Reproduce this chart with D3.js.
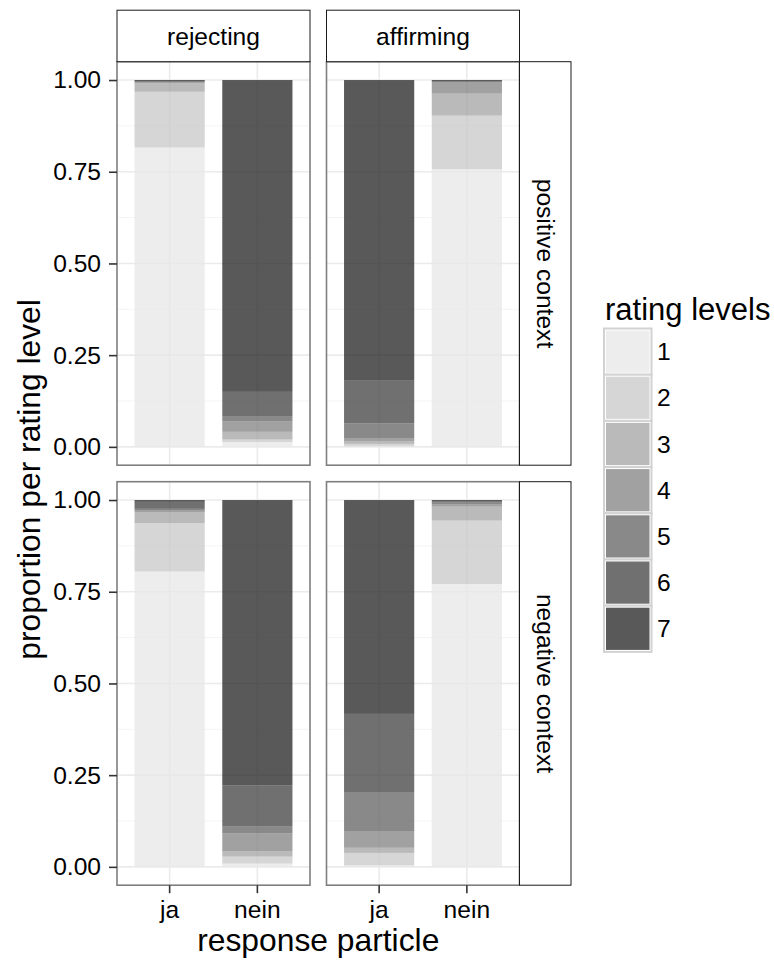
<!DOCTYPE html>
<html>
<head>
<meta charset="utf-8">
<script src="https://cdn.jsdelivr.net/npm/d3@7"></script>
<style>
  body { margin: 0; background: #fff; }
  text { font-family: "Liberation Sans", Arial, sans-serif; fill: #000; }
</style>
</head>
<body>
<svg id="graph" width="774" height="963"></svg>
<script>
// facets and categories
var conditions = ['rejecting', 'affirming'];
var contexts = ['positive context', 'negative context'];
var particles = ['ja', 'nein'];
var ratingLevels = ['1', '2', '3', '4', '5', '6', '7'];
var yTicks = [0, 0.25, 0.5, 0.75, 1];
var yMinor = [0.125, 0.375, 0.625, 0.875];

// proportion per rating level (1..7)
var posRejectingJa   = [0.816, 0.152, 0.023, 0.002, 0.002, 0.002, 0.003];
var posRejectingNein = [0.013, 0.007, 0.021, 0.029, 0.014, 0.066, 0.850];
var posAffirmingJa   = [0.002, 0.006, 0.008, 0.008, 0.040, 0.118, 0.818];
var posAffirmingNein = [0.757, 0.146, 0.060, 0.030, 0.002, 0.002, 0.003];
var negRejectingJa   = [0.805, 0.132, 0.029, 0.005, 0.005, 0.019, 0.005];
var negRejectingNein = [0.009, 0.019, 0.014, 0.049, 0.020, 0.111, 0.778];
var negAffirmingJa   = [0.004, 0.034, 0.014, 0.044, 0.108, 0.213, 0.583];
var negAffirmingNein = [0.771, 0.173, 0.038, 0.006, 0.005, 0.004, 0.003];

var greys = ['#e7e7e7', '#c8c8c8', '#a3a3a3', '#828282', '#626262', '#404040', '#222222'];

graphFunctions = {
  PANEL_W: 193,
  PANEL_H: 403.5,
  GAP: 16.5,
  STRIP: 51.5,
  LEFT: 117,
  TOP: 61.7,

  init: function () {
    var panelData = [
      [posRejectingJa, posRejectingNein, posAffirmingJa, posAffirmingNein],
      [negRejectingJa, negRejectingNein, negAffirmingJa, negAffirmingNein]
    ];
    graphFunctions.panels = [];
    contexts.forEach(function (ctx, r) {
      conditions.forEach(function (cond, c) {
        var rows = particles.map(function (p, i) {
          var vals = panelData[r][c * 2 + i];
          var row = { particle: p };
          ratingLevels.forEach(function (lvl, k) { row[lvl] = vals[k]; });
          return row;
        });
        graphFunctions.panels.push({ row: r, col: c, rows: rows });
      });
    });
    graphFunctions.createGraph();
  },

  createGraph: function () {
    var vis = d3.select('#graph');
    var W = graphFunctions.PANEL_W, H = graphFunctions.PANEL_H;

    var xRange = d3.scaleBand().domain(particles).range([0, W])
      .paddingInner(0.2).paddingOuter(0.2);
    var yRange = d3.scaleLinear().domain([-0.05, 1.05]).range([H, 0]);

    var stack = d3.stack().keys(ratingLevels).offset(d3.stackOffsetExpand);

    graphFunctions.panels.forEach(function (p) {
      var px = graphFunctions.LEFT + p.col * (W + graphFunctions.GAP);
      var py = graphFunctions.TOP + p.row * (H + graphFunctions.GAP);
      var g = vis.append('g').attr('transform', 'translate(' + px + ',' + py + ')');

      g.append('rect').attr('width', W).attr('height', H).attr('fill', '#fff');

      // grid
      g.selectAll('.minor').data(yMinor).enter().append('line')
        .attr('x1', 0).attr('x2', W)
        .attr('y1', function (d) { return yRange(d); })
        .attr('y2', function (d) { return yRange(d); })
        .attr('stroke', '#f4f4f4').attr('stroke-width', 1);
      g.selectAll('.major').data(yTicks).enter().append('line')
        .attr('x1', 0).attr('x2', W)
        .attr('y1', function (d) { return yRange(d); })
        .attr('y2', function (d) { return yRange(d); })
        .attr('stroke', '#ebebeb').attr('stroke-width', 1.6);
      g.selectAll('.vgrid').data(particles).enter().append('line')
        .attr('y1', 0).attr('y2', H)
        .attr('x1', function (d) { return xRange(d) + xRange.bandwidth() / 2; })
        .attr('x2', function (d) { return xRange(d) + xRange.bandwidth() / 2; })
        .attr('stroke', '#ebebeb').attr('stroke-width', 1.6);

      // stacked bars
      var series = stack(p.rows);
      series.forEach(function (s, k) {
        g.selectAll('.bar' + k).data(s).enter().append('rect')
          .attr('x', function (d) { return xRange(d.data.particle); })
          .attr('width', xRange.bandwidth())
          .attr('y', function (d) { return yRange(d[1]); })
          .attr('height', function (d) { return yRange(d[0]) - yRange(d[1]); })
          .attr('fill', greys[k])
          .attr('fill-opacity', 0.75);
      });

      g.append('rect').attr('width', W).attr('height', H)
        .attr('fill', 'none').attr('stroke', '#7f7f7f').attr('stroke-width', 1.6);

      // axes on outer panels
      if (p.col === 0) {
        var yAxis = d3.axisLeft(yRange).tickValues(yTicks)
          .tickFormat(d3.format('.2f')).tickSizeInner(8).tickSizeOuter(0).tickPadding(8);
        var ya = g.append('g').call(yAxis);
        ya.select('.domain').remove();
        ya.selectAll('line').attr('stroke', '#333').attr('stroke-width', 1.6);
        ya.selectAll('text').attr('font-size', 24.6).attr('fill', '#000')
          .attr('font-family', '"Liberation Sans", Arial, sans-serif');
      }
      if (p.row === 1) {
        var xAxis = d3.axisBottom(xRange).tickSizeInner(8).tickSizeOuter(0).tickPadding(7);
        var xa = g.append('g').attr('transform', 'translate(0,' + H + ')').call(xAxis);
        xa.select('.domain').remove();
        xa.selectAll('line').attr('stroke', '#333').attr('stroke-width', 1.6);
        xa.selectAll('text').attr('font-size', 24.6).attr('fill', '#000')
          .attr('font-family', '"Liberation Sans", Arial, sans-serif');
      }

      // strips
      if (p.row === 0) {
        var sg = vis.append('g').attr('transform', 'translate(' + px + ',' + (py - graphFunctions.STRIP) + ')');
        sg.append('rect').attr('width', W).attr('height', graphFunctions.STRIP)
          .attr('fill', '#fff').attr('stroke', '#1a1a1a').attr('stroke-width', 1);
        sg.append('text').attr('x', W / 2).attr('y', graphFunctions.STRIP / 2)
          .attr('dy', '0.35em').attr('text-anchor', 'middle').attr('font-size', 24.6)
          .text(conditions[p.col]);
      }
      if (p.col === 1) {
        var rg = vis.append('g').attr('transform', 'translate(' + (px + W) + ',' + py + ')');
        rg.append('rect').attr('width', graphFunctions.STRIP).attr('height', H)
          .attr('fill', '#fff').attr('stroke', '#1a1a1a').attr('stroke-width', 1);
        rg.append('text')
          .attr('transform', 'translate(' + (graphFunctions.STRIP / 2) + ',' + (H / 2) + ') rotate(90)')
          .attr('dy', '0.35em').attr('text-anchor', 'middle').attr('font-size', 24.6)
          .text(contexts[p.row]);
      }
    });

    // axis titles
    var plotMidX = graphFunctions.LEFT + W + graphFunctions.GAP / 2;
    var plotMidY = graphFunctions.TOP + H + graphFunctions.GAP / 2;
    vis.append('text').attr('x', plotMidX).attr('y', 951)
      .attr('text-anchor', 'middle').attr('font-size', 31.8).text('response particle');
    vis.append('text').attr('transform', 'translate(40,' + (plotMidY + 6) + ') rotate(-90)')
      .attr('text-anchor', 'middle').attr('font-size', 31.8).text('proportion per rating level');

    graphFunctions.drawLegend(vis);
  },

  drawLegend: function (vis) {
    var lg = vis.append('g').attr('transform', 'translate(604,0)');
    lg.append('text').attr('x', 1).attr('y', 320).attr('font-size', 31).text('rating levels');
    var keyH = 46.2, keyW = 47.5, top = 328.5;
    ratingLevels.forEach(function (lvl, i) {
      var ky = top + i * keyH;
      lg.append('rect').attr('x', 0).attr('y', ky).attr('width', keyW).attr('height', keyH)
        .attr('fill', '#fff').attr('stroke', '#d2d2d2').attr('stroke-width', 2);
      lg.append('rect').attr('x', 2).attr('y', ky + 2).attr('width', keyW - 4).attr('height', keyH - 4)
        .attr('fill', greys[i]).attr('fill-opacity', 0.75);
      lg.append('text').attr('x', 53).attr('y', ky + keyH / 2).attr('dy', '0.35em')
        .attr('font-size', 24.6).text(lvl);
    });
  }
};

graphFunctions.init();
</script>
</body>
</html>
